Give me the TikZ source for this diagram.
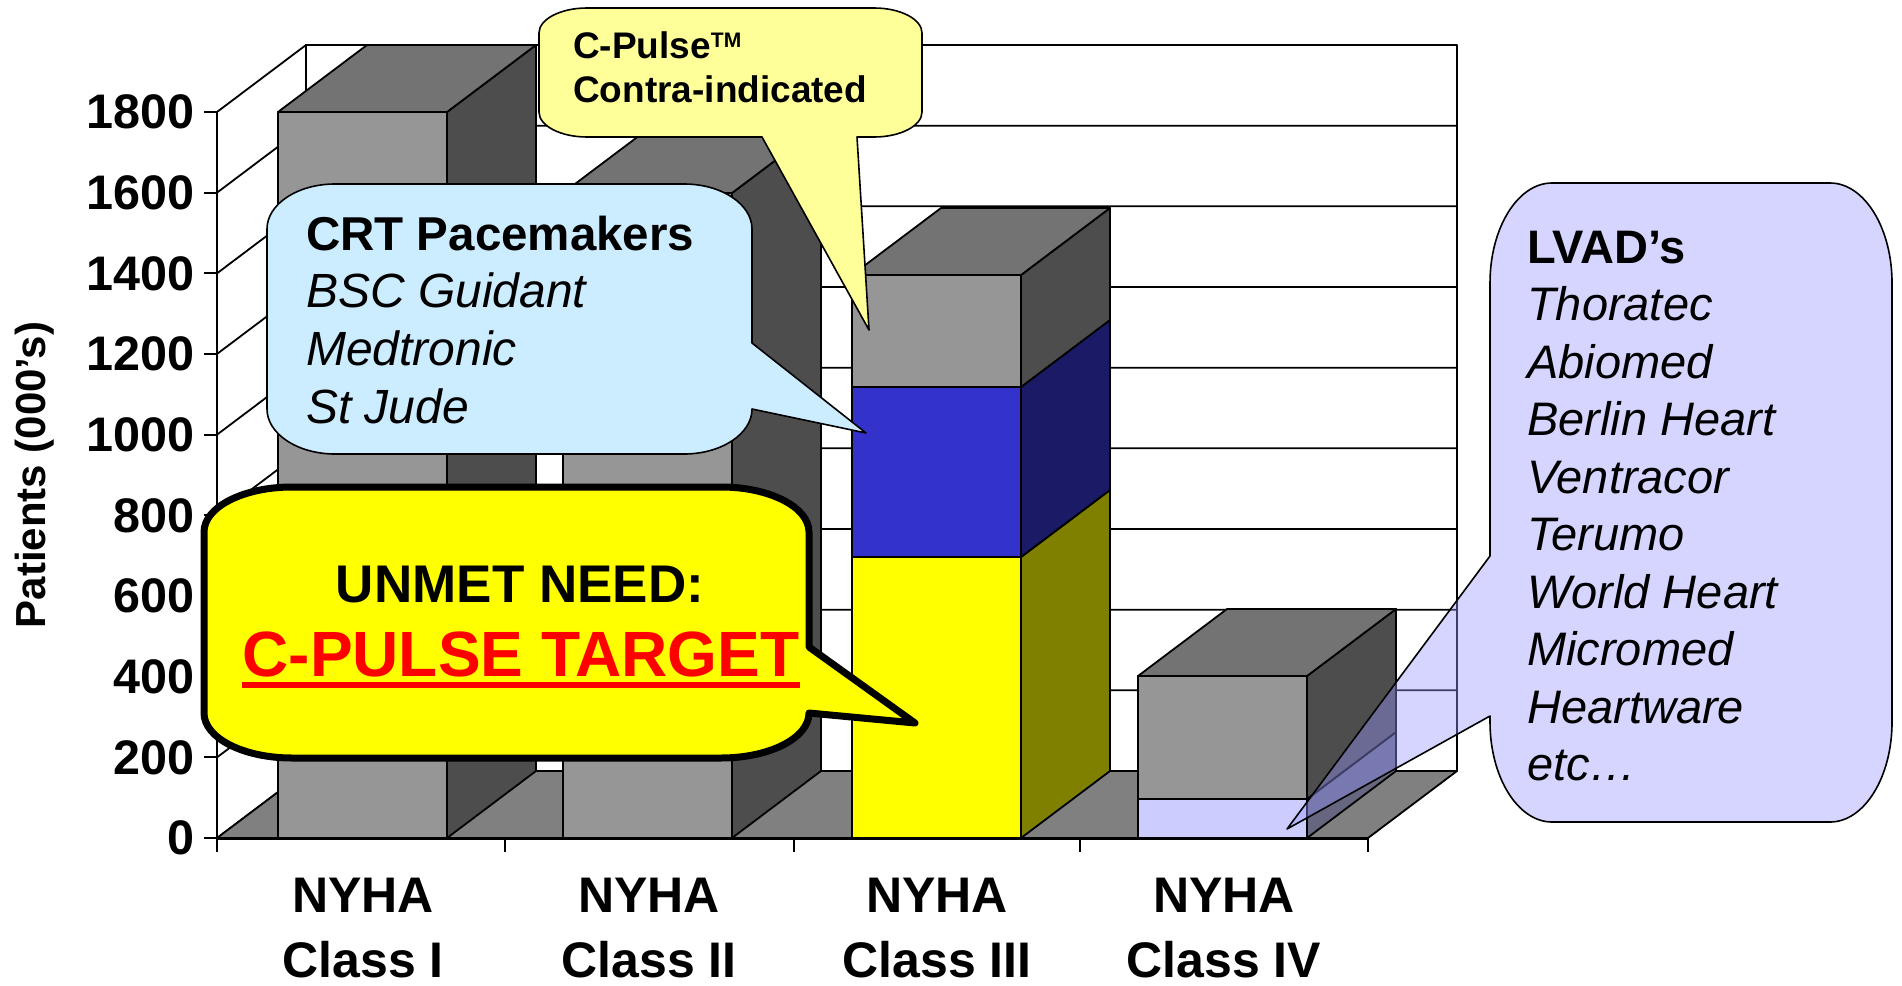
\documentclass[tikz,border=0pt]{standalone}
\usepackage{fontspec}
\setmainfont{Liberation Sans}
\definecolor{barfront}{HTML}{969696}
\definecolor{barside}{HTML}{4D4D4D}
\definecolor{bartop}{HTML}{737373}
\definecolor{floorgray}{HTML}{808080}
\definecolor{bluefront}{HTML}{3333CC}
\definecolor{blueside}{HTML}{1A1A66}
\definecolor{yelfront}{HTML}{FFFF00}
\definecolor{yelside}{HTML}{808000}
\definecolor{lavfront}{HTML}{CCCCFF}
\definecolor{lavside}{HTML}{666680}
\definecolor{crtfill}{HTML}{CCECFF}
\definecolor{cpfill}{HTML}{FFFF99}
\definecolor{lvadfill}{HTML}{9696FF}
\newcommand\chartsec[5]{%
  \filldraw[ln,fill=#5] (#1+169,#3) -- (#1+169,#2) -- ++(89,-67) -- ++(0,#3-#2) -- cycle;
  \filldraw[ln,fill=#4] (#1,#2) rectangle (#1+169,#3);}
\newcommand\charttop[3]{%
  \filldraw[ln,fill=#3] (#1,#2) -- ++(169,0) -- ++(89,-67) -- ++(-169,0) -- cycle;}
\tikzset{
  ln/.style={draw=black, line width=1.8pt},
  gridln/.style={draw=black, line width=1.8pt},
  callln/.style={draw=black, line width=1.6pt},
  ylab/.style={anchor=east, inner sep=0pt, font=\fontsize{48.5}{48.5}\selectfont\bfseries},
  catlab/.style={anchor=base, inner sep=0pt, font=\fontsize{50}{50}\selectfont\bfseries},
  itxt/.style={anchor=base west, inner sep=0pt, font=\fontsize{47}{47}\selectfont\itshape},
  btxt/.style={anchor=base west, inner sep=0pt, font=\fontsize{47}{47}\selectfont\bfseries},
}
\begin{document}
\begin{tikzpicture}[x=1pt,y=-1pt,line join=round]
\useasboundingbox (0,0) rectangle (1902,985);
\fill[white] (0,0) rectangle (1902,985);
% walls
\draw[ln] (306,45) rectangle (1457,771);
\foreach \v in {0,200,...,1800} {
  \pgfmathsetmacro\yy{838-0.40333*\v}
  \draw[gridln] (217,\yy) -- ++(89,-67) -- (1457,\yy-67);
  \draw[gridln] (204,\yy) -- (217,\yy);
  \node[ylab] (ylab\v) at (195,\yy) {\v};
}
% floor
\filldraw[ln,fill=floorgray] (217,838) -- (1368,838) -- (1457,771) -- (306,771) -- cycle;
\draw[ln,line width=3pt] (217,838) -- (1368,838);
\draw[ln] (217,112) -- (217,852);
\foreach \x in {505,794,1080,1368} \draw[ln] (\x,838) -- (\x,852);
% bars
\chartsec{278}{112}{838}{barfront}{barside}
\charttop{278}{112}{bartop}
\chartsec{563}{193}{838}{barfront}{barside}
\charttop{563}{193}{bartop}
\chartsec{852}{557}{838}{yelfront}{yelside}
\chartsec{852}{387}{557}{bluefront}{blueside}
\chartsec{852}{275}{387}{barfront}{barside}
\charttop{852}{275}{bartop}
\chartsec{1138}{799}{838}{lavfront}{lavside}
\chartsec{1138}{676}{799}{barfront}{barside}
\charttop{1138}{676}{bartop}
% axis title
\node[rotate=90, anchor=base, inner sep=0pt, font=\fontsize{42}{42}\selectfont\bfseries] (ytitle) at (45,475) {Patients (000's)};
% category labels
\foreach \cx/\cl [count=\i] in {363/I, 649/II, 937/III, 1224/IV} {
  \node[catlab] (nyha\i) at (\cx,912) {NYHA};
  \node[catlab] (class\i) at (\cx,977) {Class \cl};
}
% C-Pulse callout
\filldraw[callln, fill=cpfill] (587,8) -- (874,8) .. controls (900.5,8) and (922,19.2) .. (922,33) -- (922,112) .. controls (922,125.8) and (900.5,137) .. (874,137) -- (857,137) -- (869,330) -- (762,137) -- (587,137) .. controls (560.5,137) and (539,125.8) .. (539,112) -- (539,33) .. controls (539,19.2) and (560.5,8) .. (587,8) -- cycle;
\node[anchor=base west, inner sep=0pt, font=\fontsize{37}{37}\selectfont\bfseries] (cp1) at (573,58) {C-Pulse\raisebox{11pt}{\fontsize{21}{21}\selectfont TM}};
\node[anchor=base west, inner sep=0pt, font=\fontsize{37}{37}\selectfont\bfseries] (cp2) at (573,102) {Contra-indicated};
% CRT callout
\filldraw[callln, fill=crtfill] (335,184) -- (684,184) .. controls (721.5,184) and (752,204.2) .. (752,229) -- (752,343) -- (866,433) -- (752,409) .. controls (752,433.8) and (721.5,454) .. (684,454) -- (335,454) .. controls (297.5,454) and (267,433.8) .. (267,409) -- (267,229) .. controls (267,204.2) and (297.5,184) .. (335,184) -- cycle;
\node[btxt, font=\fontsize{47.5}{47.5}\selectfont\bfseries] (crt0) at (306,250) {CRT Pacemakers};
\foreach \t [count=\i] in {BSC Guidant, Medtronic, St Jude}
  \node[itxt, font=\fontsize{48}{48}\selectfont\itshape] (crt\i) at (306,250+57.7*\i) {\t};
% UNMET callout
\filldraw[draw=black, line width=7pt, fill=yelfront] (292,487) -- (721,487) .. controls (769.6,487) and (809,507) .. (809,532) -- (809,647) -- (915,723) -- (809,713) .. controls (809,738) and (769.6,758) .. (721,758) -- (292,758) .. controls (243.4,758) and (204,738) .. (204,713) -- (204,532) .. controls (204,507) and (243.4,487) .. (292,487) -- cycle;
\node[anchor=base, inner sep=0pt, font=\fontsize{53}{53}\selectfont\bfseries] (unmet) at (520,602) {UNMET NEED:};
\node[anchor=base, inner sep=0pt, text=red, font=\fontsize{64}{64}\selectfont\bfseries] (target) at (521,676) {C-PULSE TARGET};
\draw[red, line width=6pt] ([yshift=-9pt]target.base west) -- ([yshift=-9pt]target.base east);
% LVAD callout
\path[fill=lvadfill, fill opacity=0.4] (1552,183) -- (1830,183) .. controls (1864.2,183) and (1892,227.8) .. (1892,283) -- (1892,722) .. controls (1892,777.2) and (1864.2,822) .. (1830,822) -- (1552,822) .. controls (1517.8,822) and (1490,777.2) .. (1490,722) -- (1490,716) -- (1287,829) -- (1490,556) -- (1490,283) .. controls (1490,227.8) and (1517.8,183) .. (1552,183) -- cycle;
\draw[callln] (1552,183) -- (1830,183) .. controls (1864.2,183) and (1892,227.8) .. (1892,283) -- (1892,722) .. controls (1892,777.2) and (1864.2,822) .. (1830,822) -- (1552,822) .. controls (1517.8,822) and (1490,777.2) .. (1490,722) -- (1490,716) -- (1287,829) -- (1490,556) -- (1490,283) .. controls (1490,227.8) and (1517.8,183) .. (1552,183) -- cycle;
\node[btxt] (lv0) at (1527,263) {LVAD’s};
\foreach \t [count=\i] in {Thoratec, Abiomed, Berlin Heart, Ventracor, Terumo, World Heart, Micromed, Heartware, etc…}
  \node[itxt] (lv\i) at (1527,263+57.5*\i) {\t};
\end{tikzpicture}
\end{document}
